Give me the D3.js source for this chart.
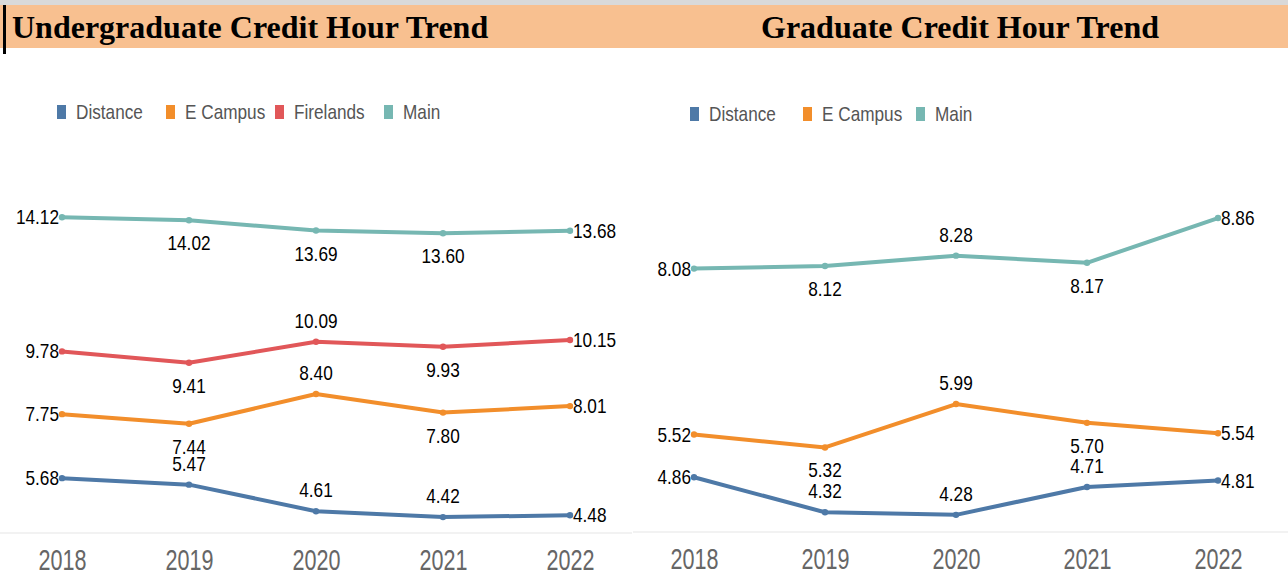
<!DOCTYPE html>
<html>
<head>
<meta charset="utf-8">
<script src="https://cdn.jsdelivr.net/npm/d3@7"></script>
<style>
  body { margin: 0; background: #fff; }
  svg { display: block; }
</style>
</head>
<body>
<div id="chart"></div>
<script>
let width = 1288;
let height = 576;

// data
const years = ["2018", "2019", "2020", "2021", "2022"];

const ugDistance = [5.68, 5.47, 4.61, 4.42, 4.48];
const ugECampus = [7.75, 7.44, 8.40, 7.80, 8.01];
const ugFirelands = [9.78, 9.41, 10.09, 9.93, 10.15];
const ugMain = [14.12, 14.02, 13.69, 13.60, 13.68];

const grDistance = [4.86, 4.32, 4.28, 4.71, 4.81];
const grECampus = [5.52, 5.32, 5.99, 5.70, 5.54];
const grMain = [8.08, 8.12, 8.28, 8.17, 8.86];

const colors = {
  "Distance": "#4e79a7",
  "E Campus": "#f28e2b",
  "Firelands": "#e15759",
  "Main": "#76b7b2"
};

// where each value label sits: L = left, R = right, A = above, B = below
const ugLabelPos = {
  "Distance": ["L", "A", "A", "A", "R"],
  "E Campus": ["L", "B", "A", "B", "R"],
  "Firelands": ["L", "B", "A", "B", "R"],
  "Main": ["L", "B", "B", "B", "R"]
};
const grLabelPos = {
  "Distance": ["L", "A", "A", "A", "R"],
  "E Campus": ["L", "B", "A", "B", "R"],
  "Main": ["L", "B", "A", "B", "R"]
};

let svg = d3.select("#chart")
  .append("svg")
    .attr("width", width)
    .attr("height", height);

// header band
svg.append("rect").attr("x", 0).attr("y", 0).attr("width", width).attr("height", 5).attr("fill", "#d9d9d9");
svg.append("rect").attr("x", 0).attr("y", 5).attr("width", width).attr("height", 43).attr("fill", "#f8c090");
svg.append("rect").attr("x", 3).attr("y", 5).attr("width", 3).attr("height", 49).attr("fill", "#000");

svg.append("text")
  .attr("x", 12).attr("y", 38)
  .text("Undergraduate Credit Hour Trend")
  .style("font-family", "'Liberation Serif', 'Times New Roman', serif")
  .style("font-weight", "bold")
  .style("font-size", "32px");

svg.append("text")
  .attr("x", 960).attr("y", 38)
  .attr("text-anchor", "middle")
  .text("Graduate Credit Hour Trend")
  .style("font-family", "'Liberation Serif', 'Times New Roman', serif")
  .style("font-weight", "bold")
  .style("font-size", "32px");

const sans = "'Liberation Sans', Arial, sans-serif";

// narrow text: squeeze horizontally around the anchor point
function narrowText(parent, x, y, txt, size, sx, anchor, fill) {
  let g = parent.append("g")
    .attr("transform", "translate(" + x + "," + y + ") scale(" + sx + ",1)");
  g.append("text")
    .attr("text-anchor", anchor)
    .text(txt)
    .style("font-family", sans)
    .style("font-size", size + "px")
    .attr("fill", fill);
  return g;
}

function drawPanel(opts) {
  let xScale = d3.scalePoint().domain(years).range(opts.xRange);
  let yScale = d3.scaleLinear().domain(opts.yDomain).range(opts.yRange);

  let g = svg.append("g");

  // baseline
  g.append("line")
    .attr("x1", opts.baseX[0]).attr("x2", opts.baseX[1])
    .attr("y1", opts.baseY).attr("y2", opts.baseY)
    .attr("stroke", "#eeeeee").attr("stroke-width", 1.5);

  // year axis
  let xAxis = d3.axisBottom(xScale).tickSize(0).tickPadding(0);
  let axisG = g.append("g")
    .attr("transform", "translate(0," + (opts.baseY + 37) + ")")
    .call(xAxis);
  axisG.select(".domain").remove();
  axisG.selectAll("text")
    .attr("dy", 0)
    .attr("transform", "scale(0.72,1)")
    .style("font-family", sans)
    .style("font-size", "30px")
    .attr("fill", "#666");

  // legend
  opts.series.forEach((s, i) => {
    let lx = opts.legendX[i];
    g.append("rect")
      .attr("x", lx).attr("y", opts.legendY - 7)
      .attr("width", 9).attr("height", 14)
      .attr("fill", colors[s.name]);
    narrowText(g, lx + 19, opts.legendY + 7, s.name, 20, 0.86, "start", "#555");
  });

  let line = d3.line()
    .x((d, i) => xScale(years[i]))
    .y(d => yScale(d));

  opts.series.forEach(s => {
    g.append("path")
      .datum(s.values)
      .attr("d", line)
      .attr("fill", "none")
      .attr("stroke", colors[s.name])
      .attr("stroke-width", 4)
      .attr("stroke-linejoin", "round");

    g.selectAll(null).data(s.values).enter()
      .append("circle")
      .attr("cx", (d, i) => xScale(years[i]))
      .attr("cy", d => yScale(d))
      .attr("r", 3.2)
      .attr("fill", colors[s.name]);

    let pos = opts.labelPos[s.name];
    s.values.forEach((d, i) => {
      let x = xScale(years[i]);
      let y = yScale(d);
      let anchor = "middle";
      if (pos[i] == "L") { x -= 3; y += 7; anchor = "end"; }
      else if (pos[i] == "R") { x += 3; y += 7; anchor = "start"; }
      else if (pos[i] == "A") { y -= 14; }
      else { y += 30; }
      narrowText(g, x, y, d.toFixed(2), 21, 0.82, anchor, "#000");
    });
  });
}

drawPanel({
  xRange: [62, 570],
  yDomain: [3, 15],
  yRange: [561, 190],
  baseX: [0, 632],
  baseY: 533,
  legendX: [57, 166, 275, 384],
  legendY: 112,
  labelPos: ugLabelPos,
  series: [
    { name: "Distance", values: ugDistance },
    { name: "E Campus", values: ugECampus },
    { name: "Firelands", values: ugFirelands },
    { name: "Main", values: ugMain }
  ]
});

drawPanel({
  xRange: [694, 1218],
  yDomain: [4, 9],
  yRange: [533, 209],
  baseX: [633, 1288],
  baseY: 532,
  legendX: [690, 803, 916],
  legendY: 114,
  labelPos: grLabelPos,
  series: [
    { name: "Distance", values: grDistance },
    { name: "E Campus", values: grECampus },
    { name: "Main", values: grMain }
  ]
});
</script>
</body>
</html>
